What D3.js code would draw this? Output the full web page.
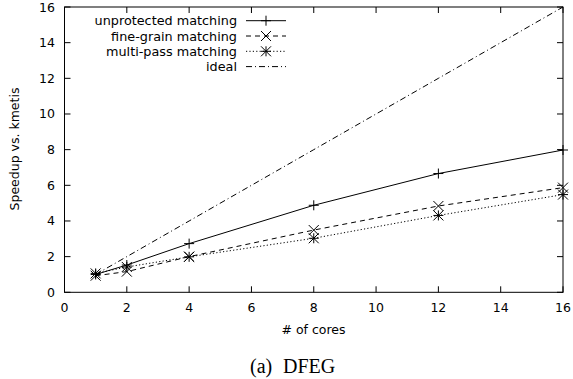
<!DOCTYPE html>
<html>
<head>
<meta charset="utf-8">
<script src="https://cdn.jsdelivr.net/npm/d3@7"></script>
<style>
  body { margin: 0; background: #fff; }
  svg text { font-family: "DejaVu Sans", sans-serif; fill: #000; }
  svg text.caption { font-family: "Liberation Serif", "DejaVu Serif", serif; font-size: 20px; }
</style>
</head>
<body>
<svg id="chart" width="573" height="379"></svg>
<script>
// 数据
const cores = [1, 2, 4, 8, 12, 16];
const unprotected = [1.0, 1.53, 2.73, 4.88, 6.66, 7.98];
const fineGrain = [0.93, 1.16, 2.0, 3.49, 4.84, 5.87];
const multiPass = [1.06, 1.42, 1.99, 3.03, 4.31, 5.48];
const ideal = [1, 2, 4, 8, 12, 16];
const xTicks = [0, 2, 4, 6, 8, 10, 12, 14, 16];
const yTicks = [0, 2, 4, 6, 8, 10, 12, 14, 16];

const series = [
    { name: 'unprotected matching', values: unprotected, dash: null, marker: 'plus' },
    { name: 'fine-grain matching', values: fineGrain, dash: '5,4', marker: 'cross' },
    { name: 'multi-pass matching', values: multiPass, dash: '1.2,2.2', marker: 'star' },
    { name: 'ideal', values: ideal, dash: '6,3,1,3', marker: null }
];

const svg = d3.select('#chart');
const plotLeft = 64.5, plotRight = 563, plotTop = 7, plotBottom = 292.3;

const x = d3.scaleLinear().domain([0, 16]).range([plotLeft, plotRight]);
const y = d3.scaleLinear().domain([0, 16]).range([plotBottom, plotTop]);

// 坐标轴 (刻度向内)
const tickLen = 6;
const axisG = svg.append('g');
xTicks.forEach(t => {
    axisG.append('line').attr('x1', x(t)).attr('x2', x(t)).attr('y1', plotBottom).attr('y2', plotBottom - tickLen).attr('stroke', '#000');
    axisG.append('line').attr('x1', x(t)).attr('x2', x(t)).attr('y1', plotTop).attr('y2', plotTop + tickLen).attr('stroke', '#000');
    axisG.append('text').text(t).attr('x', x(t)).attr('y', 312)
        .attr('text-anchor', 'middle').style('font-size', '12.5px');
});
yTicks.forEach(t => {
    axisG.append('line').attr('x1', plotLeft).attr('x2', plotLeft + tickLen).attr('y1', y(t)).attr('y2', y(t)).attr('stroke', '#000');
    axisG.append('line').attr('x1', plotRight).attr('x2', plotRight - tickLen).attr('y1', y(t)).attr('y2', y(t)).attr('stroke', '#000');
    axisG.append('text').text(t).attr('x', 55).attr('y', y(t) + 4.5)
        .attr('text-anchor', 'end').style('font-size', '12.5px');
});

// 标签
svg.append('text').text('# of cores').attr('x', 313.5).attr('y', 334)
    .attr('text-anchor', 'middle').style('font-size', '12.5px');
svg.append('text').text('Speedup vs. kmetis')
    .attr('transform', `translate(18.5, 149) rotate(-90)`)
    .attr('text-anchor', 'middle').style('font-size', '12.5px');
svg.append('text').attr('class', 'caption').text('(a)').attr('x', 250).attr('y', 373);
svg.append('text').attr('class', 'caption').text('DFEG').attr('x', 283).attr('y', 373);

// 点标记
const ms = 5;
function drawMarker(g, type, cx, cy) {
    let d = '';
    if (type === 'plus') {
        d = `M${cx - ms},${cy}H${cx + ms}M${cx},${cy - ms}V${cy + ms}`;
    } else if (type === 'cross') {
        d = `M${cx - ms},${cy - ms}L${cx + ms},${cy + ms}M${cx - ms},${cy + ms}L${cx + ms},${cy - ms}`;
    } else if (type === 'star') {
        d = `M${cx - ms},${cy}H${cx + ms}M${cx},${cy - ms}V${cy + ms}` +
            `M${cx - ms},${cy - ms}L${cx + ms},${cy + ms}M${cx - ms},${cy + ms}L${cx + ms},${cy - ms}`;
    }
    if (d) g.append('path').attr('d', d).attr('stroke', '#000').attr('stroke-width', 1).attr('fill', 'none');
}

const line = d3.line().x((d, i) => x(cores[i])).y(d => y(d));
const plotG = svg.append('g');
series.forEach(s => {
    plotG.append('path').datum(s.values).attr('d', line)
        .attr('fill', 'none').attr('stroke', '#000').attr('stroke-width', 1)
        .attr('stroke-dasharray', s.dash);
    if (s.marker) s.values.forEach((v, i) => drawMarker(plotG, s.marker, x(cores[i]), y(v)));
});

// 边框
svg.append('rect').attr('x', plotLeft).attr('y', plotTop).attr('width', plotRight - plotLeft).attr('height', plotBottom - plotTop)
    .attr('fill', 'none').attr('stroke', '#000').attr('stroke-width', 1);

// 图例
const legendG = svg.append('g');
series.forEach((s, i) => {
    const ly = 20.7 + i * 15.3;
    legendG.append('text').text(s.name).attr('x', 237).attr('y', ly + 4.5)
        .attr('text-anchor', 'end').style('font-size', '12.8px');
    legendG.append('line').attr('x1', 246).attr('x2', 286).attr('y1', ly).attr('y2', ly)
        .attr('stroke', '#000').attr('stroke-dasharray', s.dash);
    if (s.marker) drawMarker(legendG, s.marker, 266, ly);
});
</script>
</body>
</html>
